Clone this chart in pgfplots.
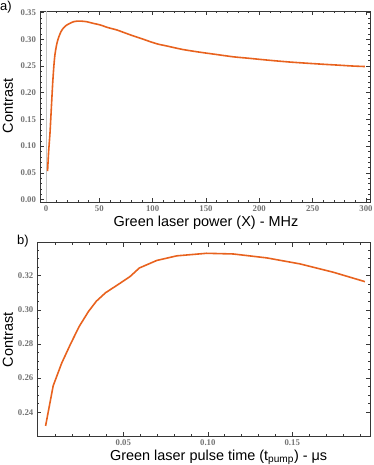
\documentclass[border=0pt]{standalone}
\usepackage{fontspec}
\setmainfont{Liberation Serif}
\setsansfont{Liberation Sans}
\usepackage{pgfplots}
\pgfplotsset{compat=1.18}
\definecolor{curveOrange}{RGB}{232,98,30}
\definecolor{tickGray}{RGB}{115,115,115}
\definecolor{frameGray}{RGB}{55,55,55}
\pgfplotsset{
  panel/.style={
    scale only axis,
    axis line style={frameGray, line width=0.9pt},
    tick style={frameGray, line width=0.5pt},
    major tick length=4bp,
    minor tick length=2bp,
    tick align=inside,
    ticklabel style={font=\fontsize{8.8}{10}\selectfont\bfseries, text=tickGray},
    xticklabel style={yshift=-2.2bp, inner sep=1.5pt},
    yticklabel style={xshift=-0.5bp},
    /pgf/number format/assume math mode=true,
    label style={font=\sffamily\fontsize{14.5}{16}\selectfont},
    xlabel style={inner sep=0pt},
  },
}
\begin{document}
\begin{tikzpicture}
\path[use as bounding box] (0,0) rectangle (374bp,-465bp);

% --- panel a ---
\begin{axis}[panel,
  at={(40bp,-202bp)}, anchor=south west,
  width=330bp, height=191bp,
  xmin=-5.6, xmax=303.8, ymin=-0.0047, ymax=0.353,
  xtick={0,50,...,300}, minor x tick num=4,
  ytick={0,0.05,...,0.35}, minor y tick num=4,
  yticklabel style={/pgf/number format/.cd, fixed, fixed zerofill, precision=2},
  xlabel={Green laser power (X) - MHz},
  ylabel={Contrast},
  xlabel style={at={(axis description cs:0.503,-0.1257)}, anchor=base},
  ylabel style={at={(axis description cs:-0.097,0.503)}, anchor=center, rotate=0},
]
\addplot[gray!45, line width=0.6pt, forget plot] coordinates {(0,-0.0047) (0,0.353)};
\addplot[curveOrange, line width=1.6pt, smooth, tension=0.4] coordinates {
 (1.5,0.053)(2.5,0.09)(3.75,0.124)(5,0.17)(6.3,0.218)(7.4,0.25)(8.4,0.271)
 (10,0.29)(11.6,0.302)(14,0.314)(16.3,0.321)(19,0.326)(22.5,0.330)(26,0.333)
 (29,0.334)(33,0.334)(38,0.333)(44,0.330)(50.6,0.327)(58,0.322)(66.3,0.3176)
 (74,0.312)(81.8,0.3064)(90,0.301)(97.5,0.2957)(105,0.291)(113,0.2876)
 (128,0.281)(144.4,0.2758)(160,0.2715)(175.6,0.2672)(190,0.2645)(200,0.2625)
 (215,0.2597)(230,0.2572)(250,0.2545)(262,0.2530)(275,0.2515)(287,0.2500)(299,0.249)};
\end{axis}
\node[font=\sffamily\fontsize{13}{14}\selectfont, anchor=north west, inner sep=0pt] at (0bp,-1bp) {a)};

% --- panel b ---
\begin{axis}[panel,
  at={(37.3bp,-436bp)}, anchor=south west,
  width=332.7bp, height=193.3bp,
  xmin=-0.0009, xmax=0.196, ymin=0.2261, ymax=0.3393,
  xtick={0.05,0.10,0.15},
  minor xtick={0.01,0.02,0.03,0.04,0.06,0.07,0.08,0.09,0.11,0.12,0.13,0.14,0.16,0.17,0.18,0.19},
  ytick={0.24,0.26,...,0.33}, minor y tick num=3,
  xticklabel style={/pgf/number format/.cd, fixed, fixed zerofill, precision=2},
  yticklabel style={/pgf/number format/.cd, fixed, fixed zerofill, precision=2},
  scaled x ticks=false, scaled y ticks=false,
  xlabel={Green laser pulse time (t\textsubscript{pump}) - μs},
  ylabel={Contrast},
  xlabel style={at={(axis description cs:0.545,-0.128)}, anchor=base},
  ylabel style={at={(axis description cs:-0.088,0.497)}, anchor=center, rotate=0},
]
\addplot[curveOrange, line width=1.6pt] coordinates {
 (0.004,0.232)(0.0085,0.2555)(0.0135,0.2687)(0.0185,0.2794)(0.0238,0.2901)
 (0.0293,0.2989)(0.034,0.305)(0.0395,0.310)(0.048,0.3155)(0.054,0.3195)
 (0.0595,0.3245)(0.0698,0.3289)(0.0816,0.3316)(0.0993,0.3331)(0.1151,0.3327)
 (0.1349,0.3304)(0.1545,0.3269)(0.1743,0.3220)(0.193,0.3165)};
\end{axis}
\node[font=\sffamily\fontsize{13}{14}\selectfont, anchor=north west, inner sep=0pt] at (17bp,-235bp) {b)};
\end{tikzpicture}
\end{document}
